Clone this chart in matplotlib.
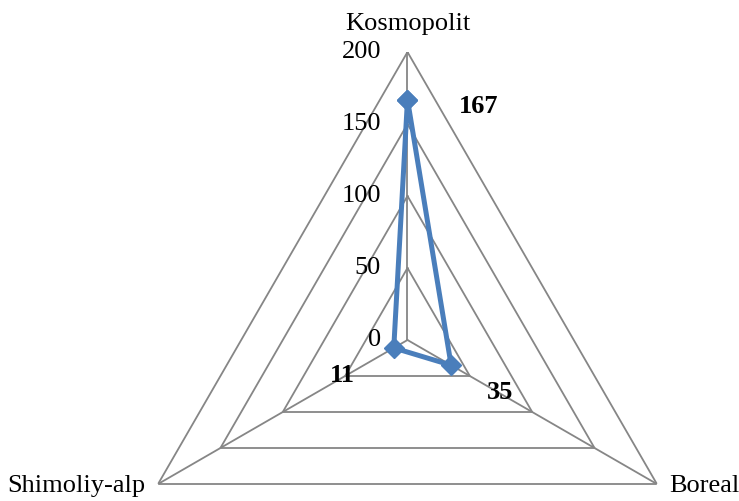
import numpy as np
import matplotlib.pyplot as plt

# data
categories = ['Kosmopolit', 'Boreal', 'Shimoliy-alp']
values = [167, 35, 11]
grid_levels = [0, 50, 100, 150, 200]
tick_labels = ['0', '50', '100', '150', '200']

plt.rcParams['font.family'] = ['Liberation Serif', 'DejaVu Serif']

fig = plt.figure(figsize=(7.39, 5.01), dpi=100)
ax = fig.add_axes([0.1617, -0.2535, 0.7794, 1.1497], projection='polar')
ax.set_theta_offset(np.pi / 2)
ax.set_theta_direction(-1)
ax.set_ylim(0, 200)
ax.axis('off')

n = len(categories)
angles = np.linspace(0, 2 * np.pi, n, endpoint=False)
closed = np.append(angles, angles[0])

grey = '#868686'
# polygon gridlines
for lev in grid_levels[1:]:
    ax.plot(closed, [lev] * (n + 1), color=grey, lw=1.3, zorder=1)
# spokes
for a in angles:
    ax.plot([a, a], [0, 200], color=grey, lw=1.3, zorder=1)

# data series
vals = np.append(values, values[0])
ax.plot(closed, vals, color='#4A7EBB', lw=3.6, marker='D', markersize=10,
        zorder=3, clip_on=False)

fs = 19
# axis tick labels
for lev, lab in zip(grid_levels, tick_labels):
    ax.annotate(lab, xy=(0, lev), xytext=(-19, 0), textcoords='offset points',
                ha='right', va='center', fontsize=fs, annotation_clip=False)

# category labels
ax.annotate(categories[0], xy=(angles[0], 200), xytext=(0, 12),
            textcoords='offset points', ha='center', va='bottom', fontsize=fs,
            annotation_clip=False)
ax.annotate(categories[1], xy=(angles[1], 200), xytext=(9, -5.5),
            textcoords='offset points', ha='left', va='baseline', fontsize=fs,
            annotation_clip=False)
ax.annotate(categories[2], xy=(angles[2], 200), xytext=(-9, -5.5),
            textcoords='offset points', ha='right', va='baseline', fontsize=fs,
            annotation_clip=False)

# value labels
offsets = [(51, -5), (35, -20), (-37, -20)]
for a, v, off in zip(angles, values, offsets):
    ax.annotate(str(v), xy=(a, v), xytext=off, textcoords='offset points',
                ha='center', va='center', fontsize=fs, fontweight='bold',
                annotation_clip=False)

fig.savefig('out.png', dpi=100)
